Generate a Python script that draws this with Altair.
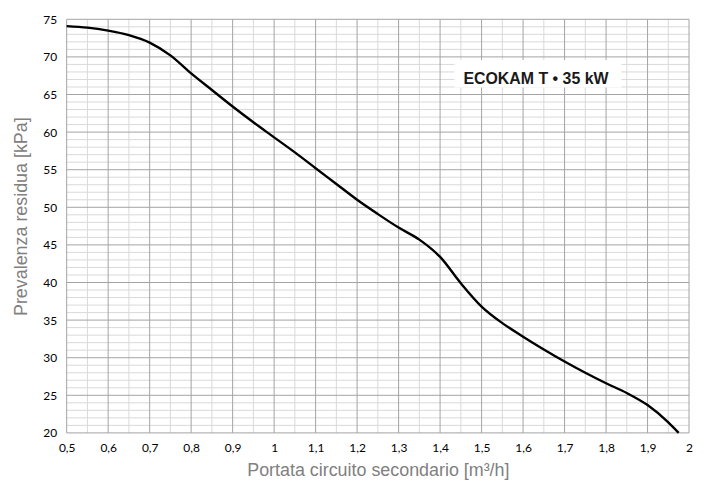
import altair as alt
import pandas as pd

# Curve: flow [m3/h] vs residual head [kPa]
flow = [0.5, 0.55, 0.6, 0.65, 0.7, 0.75, 0.8, 0.85, 0.9, 0.95, 1.0, 1.05, 1.1,
        1.15, 1.2, 1.25, 1.3, 1.35, 1.4, 1.45, 1.5, 1.55, 1.6, 1.65, 1.7, 1.75,
        1.8, 1.85, 1.9, 1.95, 1.975]
head = [74.1, 73.9, 73.5, 72.9, 71.9, 70.2, 67.8, 65.6, 63.4, 61.3, 59.3, 57.3, 55.2,
        53.1, 51.0, 49.1, 47.3, 45.7, 43.4, 39.9, 36.8, 34.6, 32.8, 31.1, 29.5, 28.0,
        26.6, 25.3, 23.7, 21.4, 20.0]

# Tick / grid values
x_major = [0.5, 0.6, 0.7, 0.8, 0.9, 1.0, 1.1, 1.2, 1.3, 1.4, 1.5, 1.6, 1.7, 1.8, 1.9, 2.0]
x_minor = [0.55, 0.65, 0.75, 0.85, 0.95, 1.05, 1.15, 1.25, 1.35, 1.45, 1.55, 1.65,
           1.75, 1.85, 1.95]
y_major = [20, 25, 30, 35, 40, 45, 50, 55, 60, 65, 70, 75]
y_minor = [v for v in range(21, 75) if v % 5 != 0]

label_text = ["ECOKAM T • 35 kW"]
x_title = "Portata circuito secondario [m³/h]"
y_title = "Prevalenza residua [kPa]"

xs = alt.Scale(domain=[0.5, 2.0], nice=False, zero=False)
ys = alt.Scale(domain=[20, 75], nice=False, zero=False)

x_axis = alt.Axis(values=x_major, title=x_title, grid=False, domain=False,
                  ticks=False, tickSize=0, labelPadding=10, labelFlush=False,
                  labelExpr="replace(format(datum.value, '~g'), '.', ',')",
                  labelFont="Lato", labelFontSize=12, labelColor="black",
                  titleFont="Liberation Sans", titleFontSize=18,
                  titleFontWeight="normal", titleColor="#808080",
                  titleX=313, titleY=43, titleBaseline="alphabetic",
                  titleAlign="center")
y_axis = alt.Axis(values=y_major, title=y_title, grid=False, domain=False,
                  ticks=False, tickSize=0, labelPadding=10, labelFlush=False,
                  labelFont="Lato", labelFontSize=12, labelColor="black",
                  titleFont="Liberation Sans", titleFontSize=18,
                  titleFontWeight="normal", titleColor="#808080",
                  titleX=-45, titleY=198, titleAngle=-90,
                  titleBaseline="middle", titleAlign="center")

MINOR = "#d9d9d9"
MAJOR = "#a3a3a3"

vminor = alt.Chart(pd.DataFrame({"flow": x_minor})).mark_rule(color=MINOR, strokeWidth=1).encode(
    x=alt.X("flow:Q", scale=xs, axis=x_axis))
hminor = alt.Chart(pd.DataFrame({"head": y_minor})).mark_rule(color=MINOR, strokeWidth=1).encode(
    y=alt.Y("head:Q", scale=ys, axis=y_axis))
vmajor = alt.Chart(pd.DataFrame({"flow": x_major})).mark_rule(color=MAJOR, strokeWidth=1).encode(
    x=alt.X("flow:Q", scale=xs, axis=x_axis))
hmajor = alt.Chart(pd.DataFrame({"head": y_major})).mark_rule(color=MAJOR, strokeWidth=1).encode(
    y=alt.Y("head:Q", scale=ys, axis=y_axis))

label_df = pd.DataFrame({"label": label_text})
box = alt.Chart(label_df).mark_rect(fill="white").encode(
    x=alt.value(390), x2=alt.value(558), y=alt.value(41), y2=alt.value(68.5))
label = alt.Chart(label_df).mark_text(
    font="Liberation Sans", fontSize=16, fontWeight="bold", color="#1a1a1a",
    align="center", baseline="alphabetic").encode(
    text="label:N", x=alt.value(472), y=alt.value(65))

curve = alt.Chart(pd.DataFrame({"flow": flow, "head": head})).mark_line(
    color="black", strokeWidth=2.4, interpolate="monotone").encode(
    x=alt.X("flow:Q", scale=xs, axis=x_axis),
    y=alt.Y("head:Q", scale=ys, axis=y_axis),
)

chart = alt.layer(vminor, hminor, vmajor, hmajor, box, label, curve).properties(
    width=626, height=416,
    autosize=alt.AutoSizeParams(type="none"),
    padding={"left": 59, "top": 10, "right": 8, "bottom": 46},
    background="white",
).configure_view(stroke=None)

chart.save("out.html", embed_options={"renderer": "svg", "actions": False})
